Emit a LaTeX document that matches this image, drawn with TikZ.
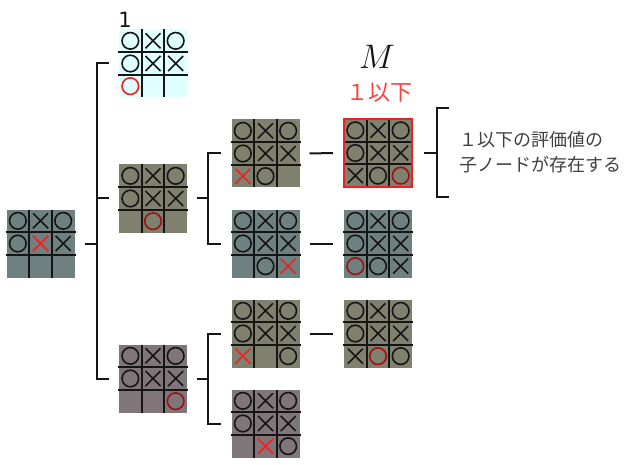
\documentclass[tikz,border=0pt]{standalone}
\usepackage{fix-cm}
\usepackage{fontspec}
\newfontfamily\jp{Noto Sans CJK JP}
\newfontfamily\lab{DejaVu Sans}
\definecolor{gb}{HTML}{6F8080}
\definecolor{ol}{HTML}{80806F}
\definecolor{mv}{HTML}{807579}
\definecolor{cy}{HTML}{E0FFFF}
\definecolor{rr}{HTML}{F02020}
\definecolor{dr}{HTML}{A01010}
\definecolor{ink}{HTML}{151515}
\definecolor{redtxt}{HTML}{FF4040}
\definecolor{graytxt}{HTML}{404040}
\tikzset{
  board/.style={rectangle, minimum size=68pt, inner sep=0pt, outer sep=0pt, draw=none},
  gridline/.style={draw=ink, line width=2.2pt},
  mk/.style={line width=1.6pt},
  conn/.style={draw=ink, line width=2pt},
}
\newcommand\mko[2]{\draw[mk, draw=ink] (#1,#2) circle (8.3);}
\newcommand\mkx[2]{\draw[mk, draw=ink] (#1-7.5,#2-7.5) -- (#1+7.5,#2+7.5) (#1-7.5,#2+7.5) -- (#1+7.5,#2-7.5);}
\newcommand\mkO[2]{\draw[mk, draw=rr] (#1,#2) circle (8.3);}
\newcommand\mkX[2]{\draw[mk, draw=rr] (#1-7.5,#2-7.5) -- (#1+7.5,#2+7.5) (#1-7.5,#2+7.5) -- (#1+7.5,#2-7.5);}
\newcommand\mkd[2]{\draw[mk, draw=dr] (#1,#2) circle (8.3);}
\newcommand\mke[2]{}
% #1 name, #2 cells
\newcommand\brd[2]{%
  \begin{scope}[shift={(#1.center)}]
    \draw[gridline] (-11.333,-34) -- (-11.333,34) (11.333,-34) -- (11.333,34)
                    (-35,-11.333) -- (35,-11.333) (-35,11.333) -- (35,11.333);
    \foreach \c [count=\i from 0] in {#2} {
      \pgfmathsetmacro\cx{(mod(\i,3)-1)*68/3}
      \pgfmathsetmacro\cy{(int(\i/3)-1)*68/3}
      \csname mk\c\endcsname{\cx}{\cy}
    }
  \end{scope}}
\begin{document}
\begin{tikzpicture}[x=1pt, y=-1pt]
\useasboundingbox[fill=white] (0,0) rectangle (634,465);
% boards
\node[board, fill=cy] (top) at (153,63.5) {};
\node[board, fill=gb] (root) at (40.5,243.5) {};
\node[board, fill=ol] (b2) at (153,198.5) {};
\node[board, fill=mv] (b3) at (153,378.5) {};
\node[board, fill=ol] (c1) at (265.5,153.5) {};
\node[board, fill=gb] (c2) at (265.5,243.5) {};
\node[board, fill=ol] (c3) at (265.5,333.5) {};
\node[board, fill=mv] (c4) at (265.5,423.5) {};
\node[board, fill=ol, draw=rr, line width=2pt] (d1) at (378,153) {};
\node[board, fill=gb] (d2) at (378,243.5) {};
\node[board, fill=ol] (d3) at (378,333.5) {};
\brd{top}{o,x,o,o,x,x,O,e,e}
\brd{root}{o,x,o,o,X,x,e,e,e}
\brd{b2}{o,x,o,o,x,x,e,d,e}
\brd{b3}{o,x,o,o,x,x,e,e,d}
\brd{c1}{o,x,o,o,x,x,X,o,e}
\brd{c2}{o,x,o,o,x,x,e,o,X}
\brd{c3}{o,x,o,o,x,x,X,e,o}
\brd{c4}{o,x,o,o,x,x,e,X,o}
\brd{d1}{o,x,o,o,x,x,x,o,d}
\brd{d2}{o,x,o,o,x,x,d,o,x}
\brd{d3}{o,x,o,o,x,x,x,d,o}
\draw[draw=rr, line width=2pt] (d1.north west) rectangle (d1.south east);
% connectors
\coordinate (s0) at (97,243.5);
\draw[conn] ([xshift=10pt]root.east) -- (s0);
\draw[conn] ([xshift=-10pt]top.west) -| (s0) |- ([xshift=-10pt]b3.west);
\draw[conn] (s0 |- b2) -- ([xshift=-10pt]b2.west);
\coordinate (s1) at (208,198.5);
\draw[conn] ([xshift=10pt]b2.east) -- (s1);
\draw[conn] ([xshift=-11pt]c1.west) -| (s1) |- ([xshift=-11pt]c2.west);
\coordinate (s2) at (208,378.5);
\draw[conn] ([xshift=10pt]b3.east) -- (s2);
\draw[conn] ([xshift=-11pt]c3.west) -| (s2) |- ([xshift=-11pt]c4.west);
\draw[conn] ([xshift=10pt]c1.east) -- ([xshift=-11pt]d1.west);
\draw[conn] ([xshift=10pt]c2.east) -- ([xshift=-11pt]d2.west);
\draw[conn] ([xshift=10pt]c3.east) -- ([xshift=-11pt]d3.west);
\coordinate (s3) at (437,153);
\draw[conn] ([xshift=12pt]d1.east) -- (s3);
\draw[conn] (449,108) -| (s3) |- (449,197);
% texts
\node[inner sep=0pt, font=\lab\fontsize{21}{21}\selectfont, text=ink] (one) at (125,20) {1};
\node[inner sep=0pt, font=\fontsize{34}{34}\selectfont, text=ink] (M) at (377,57) {$M$};
\node[inner sep=0pt, font=\jp\fontsize{22}{22}\selectfont, text=redtxt] (lim) at (379,92.5) {１以下};
\node[inner sep=0pt, anchor=west, align=left, font=\jp\fontsize{18}{25}\selectfont, text=graytxt] (note) at (459,152.5) {１以下の評価値の\\子ノードが存在する};
\end{tikzpicture}
\end{document}
